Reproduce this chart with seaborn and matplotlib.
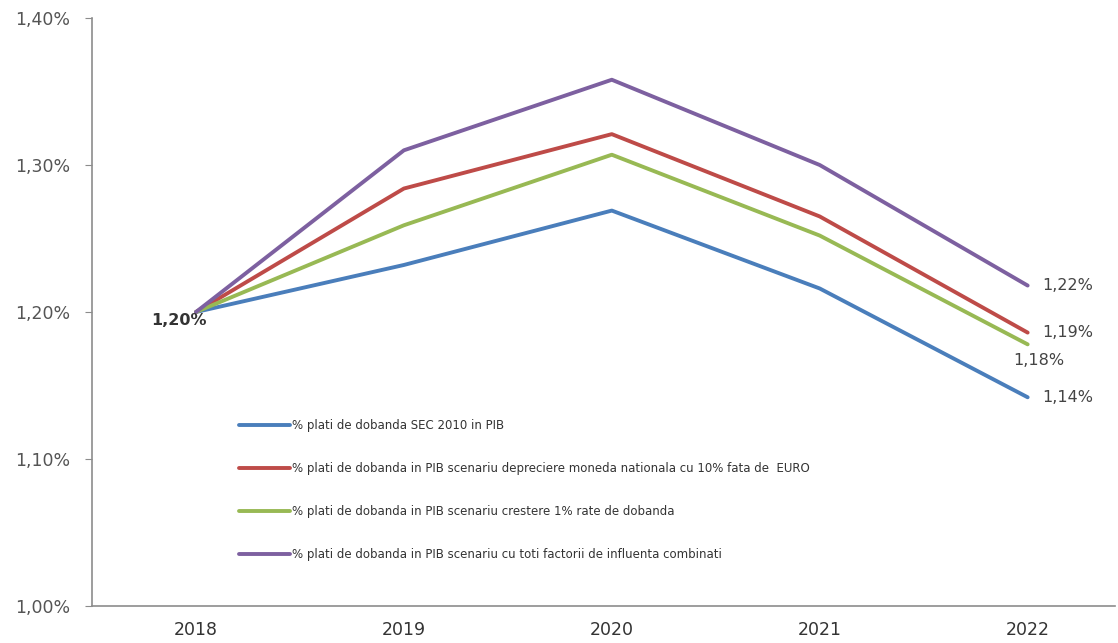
import matplotlib
matplotlib.use("Agg")
import matplotlib.pyplot as plt
import pandas as pd
import seaborn as sns

years = ["2018", "2019", "2020", "2021", "2022"]
sec2010 = [1.200, 1.232, 1.269, 1.216, 1.142]
depreciere = [1.200, 1.284, 1.321, 1.265, 1.186]
crestere = [1.200, 1.259, 1.307, 1.252, 1.178]
combinati = [1.200, 1.310, 1.358, 1.300, 1.218]

series_names = [
    "% plati de dobanda SEC 2010 in PIB",
    "% plati de dobanda in PIB scenariu depreciere moneda nationala cu 10% fata de  EURO",
    "% plati de dobanda in PIB scenariu crestere 1% rate de dobanda",
    "% plati de dobanda in PIB scenariu cu toti factorii de influenta combinati",
]
colors = ["#4a7ebb", "#be4b48", "#98b954", "#7d60a0"]

end_labels = ["1,14%", "1,19%", "1,18%", "1,22%"]

rows = []
for name, vals in zip(series_names, [sec2010, depreciere, crestere, combinati]):
    for i, (yr, v) in enumerate(zip(years, vals)):
        rows.append({"idx": i, "year": yr, "value": v, "serie": name})
df = pd.DataFrame(rows)

sns.set_style("white")
plt.rcParams["font.family"] = ["DejaVu Sans"]

fig = plt.figure(figsize=(11.18, 6.43), dpi=100)
ax = fig.add_axes([0.0823, 0.0575, 0.915, 0.9145])

sns.lineplot(ax=ax, data=df, x="idx", y="value", hue="serie",
             hue_order=series_names, palette=colors, linewidth=2.8,
             errorbar=None)

ax.set_xlim(-0.5, 4.42)
ax.set_ylim(1.0, 1.4)
ax.set_yticks([1.0, 1.1, 1.2, 1.3, 1.4])
ax.set_yticklabels(["1,00%", "1,10%", "1,20%", "1,30%", "1,40%"])
ax.set_xticks(range(len(years)))
ax.set_xticklabels(years)
ax.set_xlabel("")
ax.set_ylabel("")

for side in ["top", "right"]:
    ax.spines[side].set_visible(False)
for side in ["left", "bottom"]:
    ax.spines[side].set_color("#8c8c8c")
    ax.spines[side].set_linewidth(1.2)
ax.tick_params(axis="y", length=5, color="#8c8c8c", labelsize=12.5,
               labelcolor="#555555", pad=11, left=True)
ax.tick_params(axis="x", length=0, labelsize=12.5, labelcolor="#333333", pad=11)

# end labels
ax.text(4.07, combinati[-1], end_labels[3], fontsize=11.5, color="#444444",
        va="center", ha="left")
ax.text(4.07, depreciere[-1], end_labels[1], fontsize=11.5, color="#444444",
        va="center", ha="left")
ax.text(3.93, crestere[-1] - 0.011, end_labels[2], fontsize=11.5, color="#444444",
        va="center", ha="left")
ax.text(4.07, sec2010[-1], end_labels[0], fontsize=11.5, color="#444444",
        va="center", ha="left")
ax.text(-0.08, 1.2 - 0.006, "1,20%", fontsize=11.5, color="#333333",
        fontweight="bold", va="center", ha="center")

leg = ax.legend(loc="upper left", bbox_to_anchor=(0.144, 0.318),
                frameon=False, fontsize=8.5, handlelength=4.3,
                handletextpad=0.15, labelspacing=2.55, borderpad=0,
                borderaxespad=0)
for line in leg.get_lines():
    line.set_linewidth(2.8)
for t in leg.get_texts():
    t.set_color("#333333")

fig.savefig("out.png", dpi=100)
